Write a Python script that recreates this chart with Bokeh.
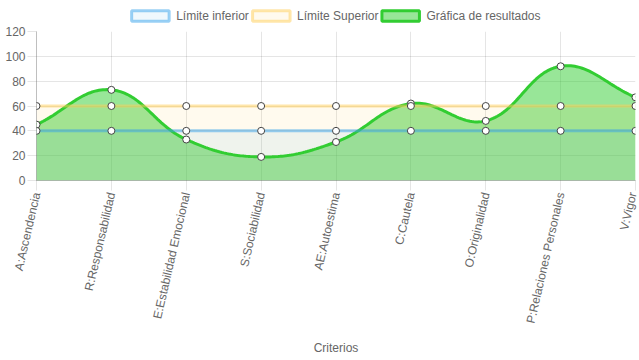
import math
import numpy as np
from bokeh.plotting import figure
from bokeh.layouts import column
from bokeh.models import Range1d, FixedTicker, ColumnDataSource
from bokeh.core.properties import value
from bokeh.embed import file_html
from bokeh.resources import INLINE

# ---- data ----
categorias = ["A:Ascendencia", "R:Responsabilidad", "E:Estabilidad Emocional",
              "S:Sociabilidad", "AE:Autoestima", "C:Cautela", "O:Originalidad",
              "P:Relaciones Personales", "V:Vigor"]
resultados = [45, 73, 33, 19, 31, 62, 48, 92, 67]
limite_inferior = [40, 40, 40, 40, 40, 40, 40, 40, 40]
limite_superior = [60, 60, 60, 60, 60, 60, 60, 60, 60]
y_ticks = [0, 20, 40, 60, 80, 100, 120]
serie_nombres = ["Límite inferior", "Límite Superior", "Gráfica de resultados"]
eje_x_titulo = "Criterios"

# ---- layout ----
W = 639
LEG_H = 24
H = 360 - LEG_H
ML, MR, MT, MB = 36, 4, 7, 180
FW = W - ML - MR
FH = H - MT - MB
XMAX = len(categorias) - 1
YMAX = 120
LEG_ITEM_X = [100, 229, 367]      # legend item left edges (pixels)
LEG_BOX_W, LEG_BOX_H, LEG_GAP = 40, 10.5, 6
LEG_MID = 8.5                      # legend row centre, from strip bottom

GRID = "rgba(0,0,0,0.1)"
ZERO = "rgba(0,0,0,0.25)"
TXT = "#666666"
FONT = "Liberation Sans"

BLUE_LINE = "rgba(54,162,235,0.5)"
BLUE_FILL = "rgba(54,162,235,0.08)"
YEL_LINE = "rgba(255,205,86,0.5)"
YEL_FILL = "rgba(255,205,86,0.1)"
GRN_LINE = "#32cd32"
GRN_FILL = "rgba(50,205,50,0.5)"


def spline_curve(xs, ys, tension=0.4, samples=40):
    """Chart.js-style bezier spline computed in pixel space."""
    sx = FW / XMAX
    sy = FH / YMAX
    px = [x * sx for x in xs]
    py = [y * sy for y in ys]
    n = len(px)
    cprev, cnext = [], []
    for i in range(n):
        a = i - 1 if i > 0 else i
        b = i + 1 if i < n - 1 else i
        d01 = math.hypot(px[i] - px[a], py[i] - py[a])
        d12 = math.hypot(px[b] - px[i], py[b] - py[i])
        tot = d01 + d12
        s01 = d01 / tot if tot else 0
        s12 = d12 / tot if tot else 0
        fa, fb = tension * s01, tension * s12
        cprev.append((px[i] - fa * (px[b] - px[a]), py[i] - fa * (py[b] - py[a])))
        cnext.append((px[i] + fb * (px[b] - px[a]), py[i] + fb * (py[b] - py[a])))

    def cap(p):
        return (min(max(p[0], 0), FW), min(max(p[1], 0), FH))

    cprev = [cap(p) for p in cprev]
    cnext = [cap(p) for p in cnext]
    outx, outy = [], []
    t = np.linspace(0, 1, samples)
    for i in range(n - 1):
        p0 = np.array([px[i], py[i]])
        p1 = np.array(cnext[i])
        p2 = np.array(cprev[i + 1])
        p3 = np.array([px[i + 1], py[i + 1]])
        pts = ((1 - t) ** 3)[:, None] * p0 + (3 * (1 - t) ** 2 * t)[:, None] * p1 \
            + (3 * (1 - t) * t ** 2)[:, None] * p2 + (t ** 3)[:, None] * p3
        if i > 0:
            pts = pts[1:]
        outx.extend(pts[:, 0] / sx)
        outy.extend(pts[:, 1] / sy)
    return outx, outy


idx = list(range(len(categorias)))
cx, cy = spline_curve(idx, resultados)

p = figure(width=W, height=H, output_backend="svg", toolbar_location=None,
           x_range=Range1d(0, XMAX), y_range=Range1d(0, YMAX),
           min_border_left=ML, min_border_right=MR, min_border_top=MT,
           min_border_bottom=MB)
p.outline_line_color = None
p.background_fill_color = "white"
p.border_fill_color = "white"

# fills
p.varea(x=cx, y1=[0] * len(cx), y2=cy, fill_color=GRN_FILL)
p.varea(x=idx, y1=[0] * len(idx), y2=limite_superior, fill_color=YEL_FILL)
p.varea(x=idx, y1=[0] * len(idx), y2=limite_inferior, fill_color=BLUE_FILL)

# lines + points (last dataset drawn first)
p.line(cx, cy, line_color=GRN_LINE, line_width=3)
p.scatter(idx, resultados, size=7, fill_color="white", line_color="#444444", line_width=1)
p.line(idx, limite_superior, line_color=YEL_LINE, line_width=3)
p.scatter(idx, limite_superior, size=7, fill_color="white", line_color="#444444", line_width=1)
p.line(idx, limite_inferior, line_color=BLUE_LINE, line_width=3)
p.scatter(idx, limite_inferior, size=7, fill_color="white", line_color="#444444", line_width=1)

# axes
xa = p.xaxis[0]
xa.ticker = FixedTicker(ticks=idx)
xa.major_label_overrides = {i: c for i, c in zip(idx, categorias)}
xa.major_label_orientation = math.radians(77)
xa.major_label_text_font = FONT
xa.major_label_text_font_size = "12px"
xa.major_label_text_color = TXT
xa.major_tick_in = 0
xa.major_tick_out = 10
xa.major_tick_line_color = GRID
xa.minor_tick_line_color = None
xa.axis_line_color = ZERO
xa.major_label_standoff = 2
xa.axis_label = eje_x_titulo
xa.axis_label_text_font = FONT
xa.axis_label_text_font_size = "12px"
xa.axis_label_text_font_style = "normal"
xa.axis_label_text_color = TXT
xa.axis_label_standoff = 12

ya = p.yaxis[0]
ya.ticker = FixedTicker(ticks=y_ticks)
ya.major_label_text_font = FONT
ya.major_label_text_font_size = "12px"
ya.major_label_text_color = TXT
ya.major_tick_in = 0
ya.major_tick_out = 9
ya.major_tick_line_color = GRID
ya.minor_tick_line_color = None
ya.axis_line_color = ZERO
ya.major_label_standoff = 2

p.xgrid.ticker = FixedTicker(ticks=idx)
p.ygrid.ticker = FixedTicker(ticks=y_ticks)
p.xgrid.grid_line_color = GRID
p.ygrid.grid_line_color = GRID

# ---- legend strip (own small figure on top, pixel coordinates) ----
lf = figure(width=W, height=LEG_H, output_backend="svg", toolbar_location=None,
            x_range=Range1d(0, W), y_range=Range1d(0, LEG_H),
            x_axis_type=None, y_axis_type=None,
            min_border_left=0, min_border_right=0, min_border_top=0, min_border_bottom=0)
lf.outline_line_color = None
lf.background_fill_color = "white"
lf.border_fill_color = "white"

leg_src = ColumnDataSource(dict(
    left=[x + 1.5 for x in LEG_ITEM_X],
    right=[x + 1.5 + LEG_BOX_W for x in LEG_ITEM_X],
    bottom=[LEG_MID - LEG_BOX_H / 2] * 3,
    top=[LEG_MID + LEG_BOX_H / 2] * 3,
    fill=[BLUE_FILL, YEL_FILL, GRN_FILL],
    line=[BLUE_LINE, YEL_LINE, GRN_LINE],
    tx=[x + 3 + LEG_BOX_W + LEG_GAP for x in LEG_ITEM_X],
    ty=[LEG_MID] * 3,
    label=serie_nombres,
))
lf.quad(source=leg_src, left="left", right="right", top="top", bottom="bottom",
        fill_color="fill", line_color="line", line_width=3)
lf.text(source=leg_src, x="tx", y="ty", text="label", text_align="left",
        text_baseline="middle", text_font=value(FONT), text_font_size="12px",
        text_color=TXT)

layout = column(lf, p, spacing=0)
open("out.html", "w").write(file_html(layout, INLINE))
